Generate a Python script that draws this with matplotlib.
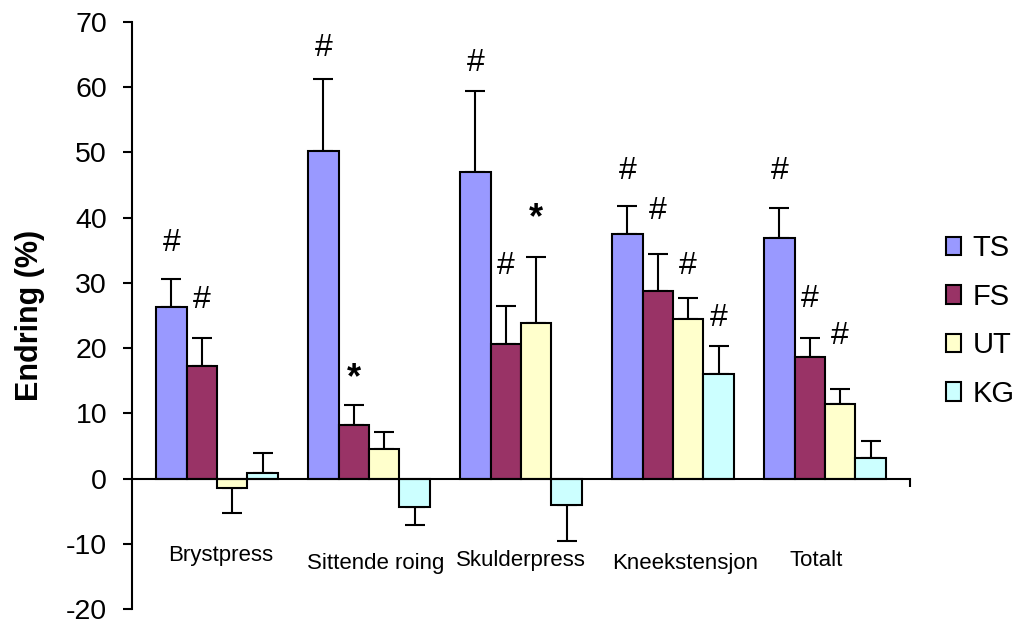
import numpy as np
import matplotlib
matplotlib.use("Agg")
import matplotlib.pyplot as plt
from matplotlib.patches import Patch
from matplotlib.transforms import offset_copy

plt.rcParams['font.family'] = ['Liberation Sans', 'DejaVu Sans']

# Exercises and groups
categories = ["Brystpress", "Sittende roing", "Skulderpress", "Kneekstensjon", "Totalt"]
groups = ["TS", "FS", "UT", "KG"]

# Mean change (%) and standard deviation per group
TS = [26.3, 50.2, 47.0, 37.5, 36.9]
TS_sd = [4.3, 11.0, 12.4, 4.3, 4.6]
FS = [17.3, 8.2, 20.7, 28.7, 18.6]
FS_sd = [4.3, 3.1, 5.8, 5.8, 3.0]
UT = [-1.5, 4.5, 23.8, 24.4, 11.5]
UT_sd = [3.8, 2.7, 10.1, 3.3, 2.2]
KG = [0.8, -4.3, -4.1, 16.1, 3.2]
KG_sd = [3.1, 2.8, 5.5, 4.3, 2.5]

# Significance markers per group and exercise
TS_sig = ["#", "#", "#", "#", "#"]
FS_sig = ["#", "*", "#", "#", "#"]
UT_sig = ["", "", "*", "#", "#"]
KG_sig = ["", "", "", "#", ""]

yticks = list(range(-20, 71, 10))

# Layout: heights (data units) of the significance markers
TS_sig_y = [36.4, 66.3, 64.0, 47.3, 47.3]
FS_sig_y = [27.6, 17.0, 32.8, 41.2, 27.7]
UT_sig_y = [0, 0, 41.5, 32.8, 22.1]
KG_sig_y = [0, 0, 0, 24.9, 0]

# Layout: category label placement (x shift in pixels, baseline in data units)
label_dx = [4, 7, 0, 12, -9]
label_y = [-12.6, -13.8, -13.4, -13.9, -13.4]

colors = ["#9999FF", "#993366", "#FFFFCC", "#CCFFFF"]

fig = plt.figure(figsize=(10.2, 6.26), dpi=100)
ax = fig.add_axes([132 / 1020, 17 / 626, 778 / 1020, 587 / 626])

x = np.arange(len(categories))
width = 0.2
series = [TS, FS, UT, KG]
sds = [TS_sd, FS_sd, UT_sd, KG_sd]
sigs = [TS_sig, FS_sig, UT_sig, KG_sig]
sig_ys = [TS_sig_y, FS_sig_y, UT_sig_y, KG_sig_y]

for i, (vals, sd, col, name) in enumerate(zip(series, sds, colors, groups)):
    vals = np.array(vals)
    sd = np.array(sd)
    pos = x + (i - 1.5) * width
    ax.bar(pos, vals, width, color=col, edgecolor="black", linewidth=1.5,
           label=name, zorder=2)
    lower = np.where(vals < 0, sd, 0)
    upper = np.where(vals >= 0, sd, 0)
    ax.errorbar(pos, vals, yerr=[lower, upper], fmt="none", ecolor="black",
                elinewidth=1.5, capsize=7, capthick=1.5, zorder=1)
    for p, s, sy in zip(pos, sigs[i], sig_ys[i]):
        if not s:
            continue
        if s == "*":
            ax.annotate(s, (p, sy), xytext=(0, -8), textcoords="offset points",
                        ha="center", va="center", fontsize=26, fontweight="bold")
        else:
            ax.annotate(s, (p, sy), xytext=(0, -1), textcoords="offset points",
                        ha="center", va="center", fontsize=23)

ax.set_xlim(-85 / 152, 4 + 85 / 152)
ax.set_ylim(-20, 70)
ax.set_yticks(yticks)
ax.set_yticklabels([str(t) for t in yticks], fontsize=20.5)
ax.tick_params(axis="y", direction="out", length=6.5, width=1.5, pad=11.5)

# Category axis crosses at zero, with a single tick at its right end
ax.spines["bottom"].set_position(("data", 0))
ax.spines["bottom"].set_linewidth(1.5)
ax.spines["left"].set_linewidth(1.5)
ax.spines["top"].set_visible(False)
ax.spines["right"].set_visible(False)
ax.set_xticks([4 + 85 / 152])
ax.set_xticklabels([""])
ax.tick_params(axis="x", direction="out", length=6, width=1.5)

for xi, name, dx, ly in zip(x, categories, label_dx, label_y):
    tr = offset_copy(ax.transData, fig=fig, x=dx, y=0, units="dots")
    ax.text(xi, ly, name, transform=tr, ha="center", va="baseline", fontsize=16)

ax.set_ylabel("Endring (%)", fontsize=22, fontweight="bold")
ax.yaxis.set_label_coords(-0.112, 0.5)

handles = [Patch(facecolor=c, edgecolor="black", linewidth=1.5) for c in colors]
fig.legend(handles, groups, loc="center left", bbox_to_anchor=(946 / 1020, 1 - 321 / 626),
           frameon=False, fontsize=21, handlelength=0.52, handleheight=0.6,
           handletextpad=0.4, labelspacing=0.7, borderaxespad=0, borderpad=0)

fig.savefig("out.png", dpi=100)
